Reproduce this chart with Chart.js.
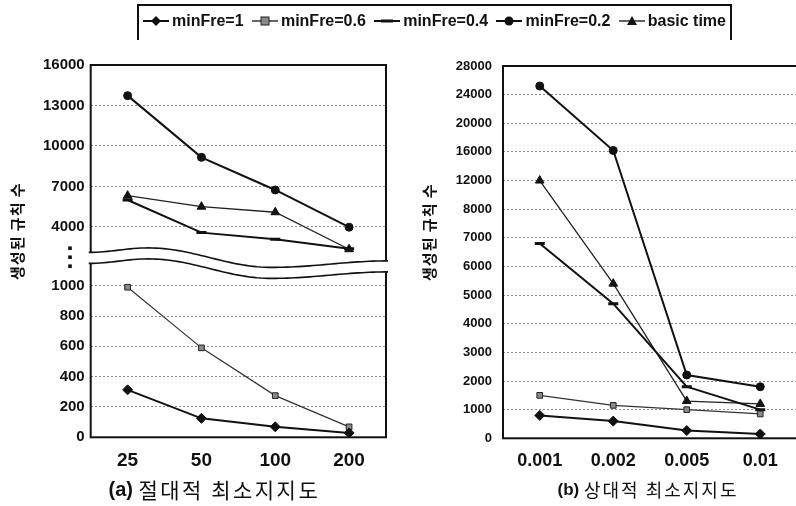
<!DOCTYPE html>
<html>
<head>
<meta charset="utf-8">
<script src="https://cdn.jsdelivr.net/npm/chart.js@4"></script>
<style>
html,body{margin:0;padding:0;background:#fff;width:796px;height:506px;overflow:hidden;}
#wrap{position:relative;width:796px;height:506px;overflow:hidden;}
#cl{position:absolute;left:0;top:0;}
#cr{position:absolute;left:398px;top:0;}
#legend{position:absolute;left:137px;top:4px;width:595px;height:36px;border:2px solid #111;border-bottom:none;
  display:flex;align-items:center;justify-content:space-between;padding:0 4px 4px 4px;box-sizing:border-box;
  font:bold 16px "Liberation Sans",Arial,sans-serif;color:#111;}
#legend .it{display:flex;align-items:center;white-space:nowrap;}
#legend svg{margin-right:3px;}
</style>
</head>
<body>
<div id="wrap">
  <canvas id="cl" width="398" height="506"></canvas>
  <canvas id="cr" width="400" height="506"></canvas>
  <div id="legend"></div>
</div>
<script>
// ---------- data ----------
const SERIES_NAMES = ['minFre=1', 'minFre=0.6', 'minFre=0.4', 'minFre=0.2', 'basic time'];

// (a) absolute minimum support
const ABS_CATEGORIES = ['25', '50', '100', '200'];
const ABS_MINFRE_1   = [313, 125, 69, 29];
const ABS_MINFRE_06  = [990, 590, 275, 69];
const ABS_MINFRE_04  = [6000, 3580, 3090, 2380];
const ABS_MINFRE_02  = [13730, 9160, 6740, 3980];
const ABS_BASIC      = [6320, 5500, 5090, 2350];
const ABS_TICKS      = [0, 200, 400, 600, 800, 1000, 4000, 7000, 10000, 13000, 16000];

// (b) relative minimum support
const REL_CATEGORIES = ['0.001', '0.002', '0.005', '0.01'];
const REL_MINFRE_1   = [800, 600, 270, 150];
const REL_MINFRE_06  = [1500, 1150, 1000, 850];
const REL_MINFRE_04  = [6800, 4700, 1800, 1000];
const REL_MINFRE_02  = [25200, 16200, 2210, 1800];
const REL_BASIC      = [12000, 5400, 1300, 1200];
const REL_TICKS      = [0, 1000, 2000, 3000, 4000, 5000, 6000, 7000, 8000, 12000, 16000, 20000, 24000, 28000];

const Y_TITLE = '생성된 규칙 수';
const X_TITLE_A = ['(a)', '절대적 최소지지도'];
const X_TITLE_B = ['(b)', '상대적 최소지지도'];

// ---------- piecewise (broken) linear scale ----------
class PiecewiseScale extends Chart.LinearScale {
  static id = 'piecewise';
  static defaults = {};
  toPos(v) {
    const k = this.options.knots;
    if (v <= k[0][0]) return k[0][1];
    for (let i = 1; i < k.length; i++) {
      if (v <= k[i][0]) {
        const v0 = k[i-1][0], p0 = k[i-1][1], v1 = k[i][0], p1 = k[i][1];
        return v1 === v0 ? p1 : p0 + (v - v0) / (v1 - v0) * (p1 - p0);
      }
    }
    return k[k.length-1][1];
  }
  fromPos(p) {
    const k = this.options.knots;
    for (let i = 1; i < k.length; i++) {
      if (p <= k[i][1] && k[i][1] !== k[i-1][1]) {
        const v0 = k[i-1][0], p0 = k[i-1][1], v1 = k[i][0], p1 = k[i][1];
        return v0 + (p - p0) / (p1 - p0) * (v1 - v0);
      }
    }
    return k[k.length-1][0];
  }
  determineDataLimits() {
    const k = this.options.knots;
    this.min = k[0][1];
    this.max = k[k.length-1][1];
  }
  buildTicks() {
    return this.options.tickValues.map(v => ({value: v}));
  }
  getPixelForValue(v) {
    if (v === null || v === undefined || isNaN(v)) return NaN;
    return this.getPixelForDecimal((this.toPos(v) - this.min) / (this.max - this.min));
  }
  getValueForPixel(px) {
    return this.fromPos(this.min + this.getDecimalForPixel(px) * (this.max - this.min));
  }
}
Chart.register(PiecewiseScale);

Chart.defaults.font.family = '"Liberation Sans", Arial, sans-serif';
Chart.defaults.color = '#111';

// ---------- series styles ----------
const STYLES = [
  {pointStyle: 'rectRot', pointRadius: 5,   borderWidth: 2,   borderColor: '#111', pointBackgroundColor: '#111', pointBorderColor: '#111', pointBorderWidth: 1},
  {pointStyle: 'rect',    pointRadius: 4,   borderWidth: 1.2, borderColor: '#333', pointBackgroundColor: '#8a8a8a', pointBorderColor: '#222', pointBorderWidth: 1},
  {pointStyle: 'line',    pointRadius: 5,   borderWidth: 2,   borderColor: '#111', pointBackgroundColor: '#111', pointBorderColor: '#111', pointBorderWidth: 3},
  {pointStyle: 'circle',  pointRadius: 4,   borderWidth: 2,   borderColor: '#111', pointBackgroundColor: '#111', pointBorderColor: '#111', pointBorderWidth: 1},
  {pointStyle: 'triangle',pointRadius: 5,   borderWidth: 1.3, borderColor: '#222', pointBackgroundColor: '#111', pointBorderColor: '#111', pointBorderWidth: 1}
];
function makeDatasets(arrays) {
  return SERIES_NAMES.map((name, i) => Object.assign({label: name, data: arrays[i], tension: 0, fill: false}, STYLES[i]));
}

// ---------- decoration plugin: frame, axis break, axis titles ----------
const panelDecor = {
  id: 'panelDecor',
  afterDraw(chart, args, o) {
    const ctx = chart.ctx, a = chart.chartArea, ys = chart.scales.y;
    const midY = (a.top + a.bottom) / 2, midX = (a.left + a.right) / 2;
    ctx.save();
    ctx.strokeStyle = '#111';
    ctx.lineWidth = 2;
    ctx.strokeRect(a.left, a.top, a.right - a.left, a.bottom - a.top);
    if (o.breakValue !== undefined) {
      const yb = ys.getPixelForValue(o.breakValue);
      const F = [0, 0.2, 0.61, 1], O = [-6, -10.5, 9, 2.5];
      const wave = f => {
        for (let i = 1; i < F.length; i++) {
          if (f <= F[i]) {
            const t = (f - F[i-1]) / (F[i] - F[i-1]);
            const s = (1 - Math.cos(Math.PI * t)) / 2;
            return O[i-1] + (O[i] - O[i-1]) * s;
          }
        }
        return O[O.length-1];
      };
      const N = 80, gap = 11, x0 = a.left - 2, x1 = a.right + 2;
      const up = [];
      for (let i = 0; i <= N; i++) {
        const f = i / N;
        up.push([x0 + f * (x1 - x0), yb + wave(f)]);
      }
      ctx.beginPath();
      up.forEach((p, i) => i ? ctx.lineTo(p[0], p[1]) : ctx.moveTo(p[0], p[1]));
      for (let i = up.length - 1; i >= 0; i--) ctx.lineTo(up[i][0], up[i][1] + gap);
      ctx.closePath();
      ctx.fillStyle = '#fff';
      ctx.fill();
      ctx.lineWidth = 1.6;
      ctx.strokeStyle = '#111';
      [0, gap].forEach(d => {
        ctx.beginPath();
        up.forEach((p, i) => i ? ctx.lineTo(p[0], p[1] + d) : ctx.moveTo(p[0], p[1] + d));
        ctx.stroke();
      });
      ctx.fillStyle = '#111';
      for (let k = 0; k < 3; k++) ctx.fillRect(a.left - 22.5, yb - 12 + k * 9, 3.6, 3.6);
    }
    // y title
    ctx.fillStyle = '#111';
    ctx.save();
    ctx.translate(a.left + o.yTitleDx, midY - 20);
    ctx.rotate(-Math.PI / 2);
    ctx.font = 'bold 15px "Noto Sans CJK KR"';
    ctx.letterSpacing = '1px';
    ctx.textAlign = 'center';
    ctx.textBaseline = 'middle';
    ctx.fillText(Y_TITLE, 0, 0);
    ctx.restore();
    // x title
    const [p1, p2] = o.xTitle;
    const f1 = 'bold ' + o.xTitleSize + 'px "Liberation Sans"';
    const f2 = (o.xTitleSize + 1) + 'px "Noto Sans CJK KR"';
    const ls = o.xTitleSpacing + 'px';
    ctx.textBaseline = 'middle';
    ctx.textAlign = 'left';
    ctx.letterSpacing = '0px';
    ctx.font = f1;
    const w1 = ctx.measureText(p1 + ' ').width;
    ctx.font = f2;
    ctx.letterSpacing = ls;
    const w2 = ctx.measureText(p2).width;
    const sx = midX + o.xTitleDx - (w1 + w2) / 2;
    ctx.letterSpacing = '0px';
    ctx.font = f1;
    ctx.fillText(p1, sx, o.xTitleY);
    ctx.font = f2;
    ctx.letterSpacing = ls;
    ctx.fillText(p2, sx + w1, o.xTitleY);
    ctx.restore();
  }
};

function makeOptions(cfg) {
  return {
    responsive: false,
    animation: false,
    events: [],
    layout: {autoPadding: false, padding: {top: cfg.top, right: cfg.right, left: 0, bottom: 0}},
    plugins: {legend: {display: false}, tooltip: {enabled: false}, panelDecor: cfg.decor},
    scales: {
      x: {
        type: 'category', offset: true,
        grid: {display: false}, border: {display: false},
        ticks: {font: {size: cfg.xFont, weight: 'bold'}, padding: cfg.xPad, color: '#111', maxRotation: 0, autoSkip: false},
        afterFit(s) { s.height = cfg.xHeight; s.paddingLeft = 0; s.paddingRight = 0; }
      },
      y: {
        type: 'piecewise', knots: cfg.knots, tickValues: cfg.ticks,
        grid: {color: '#8c8c8c', lineWidth: 1, drawTicks: false},
        border: {display: false, dash: [2, 2]},
        ticks: {font: {size: cfg.yFont, weight: 'bold'}, padding: cfg.yPad, color: '#111', autoSkip: false, callback: v => String(v)},
        afterFit(s) { s.width = cfg.yWidth; s.paddingTop = 0; s.paddingBottom = 0; }
      }
    }
  };
}

new Chart(document.getElementById('cl'), {
  type: 'line',
  data: {labels: ABS_CATEGORIES, datasets: makeDatasets([ABS_MINFRE_1, ABS_MINFRE_06, ABS_MINFRE_04, ABS_MINFRE_02, ABS_BASIC])},
  options: makeOptions({
    top: 65, right: 12, xHeight: 68.7, yWidth: 90.7, xFont: 19, yFont: 15, xPad: 4, yPad: 6,
    knots: [[0, 0], [1180, 178.9], [1670, 178.9], [16000, 372.3]], ticks: ABS_TICKS,
    decor: {breakValue: 1400, yTitleDx: -73, xTitle: X_TITLE_A, xTitleDx: -24, xTitleY: 490, xTitleSize: 20, xTitleSpacing: 2.5}
  }),
  plugins: [panelDecor]
});

new Chart(document.getElementById('cr'), {
  type: 'line',
  data: {labels: REL_CATEGORIES, datasets: makeDatasets([REL_MINFRE_1, REL_MINFRE_06, REL_MINFRE_04, REL_MINFRE_02, REL_BASIC])},
  options: makeOptions({
    top: 66, right: 1, xHeight: 67.7, yWidth: 105, xFont: 18, yFont: 13, xPad: 4, yPad: 11,
    knots: [[0, 0], [8000, 8], [28000, 13]], ticks: REL_TICKS,
    decor: {yTitleDx: -74, xTitle: X_TITLE_B, xTitleDx: -2, xTitleY: 490, xTitleSize: 17, xTitleSpacing: 2}
  }),
  plugins: [panelDecor]
});

// ---------- legend ----------
const ICONS = [
  '<polygon points="13,2 18,7 13,12 8,7" fill="#111"/>',
  '<rect x="9" y="3" width="8" height="8" fill="#8a8a8a" stroke="#222" stroke-width="1"/>',
  '<rect x="7" y="5.5" width="12" height="3" fill="#111"/>',
  '<circle cx="13" cy="7" r="4.5" fill="#111"/>',
  '<polygon points="13,2 18,11 8,11" fill="#111"/>'
];
const legend = document.getElementById('legend');
SERIES_NAMES.forEach((name, i) => {
  const it = document.createElement('div');
  it.className = 'it';
  it.innerHTML = '<svg width="26" height="14" viewBox="0 0 26 14"><line x1="0" y1="7" x2="26" y2="7" stroke="#111" stroke-width="' +
    (i === 1 || i === 4 ? 1.3 : 2) + '"/>' + ICONS[i] + '</svg><span>' + name + '</span>';
  legend.appendChild(it);
});
</script>
</body>
</html>
